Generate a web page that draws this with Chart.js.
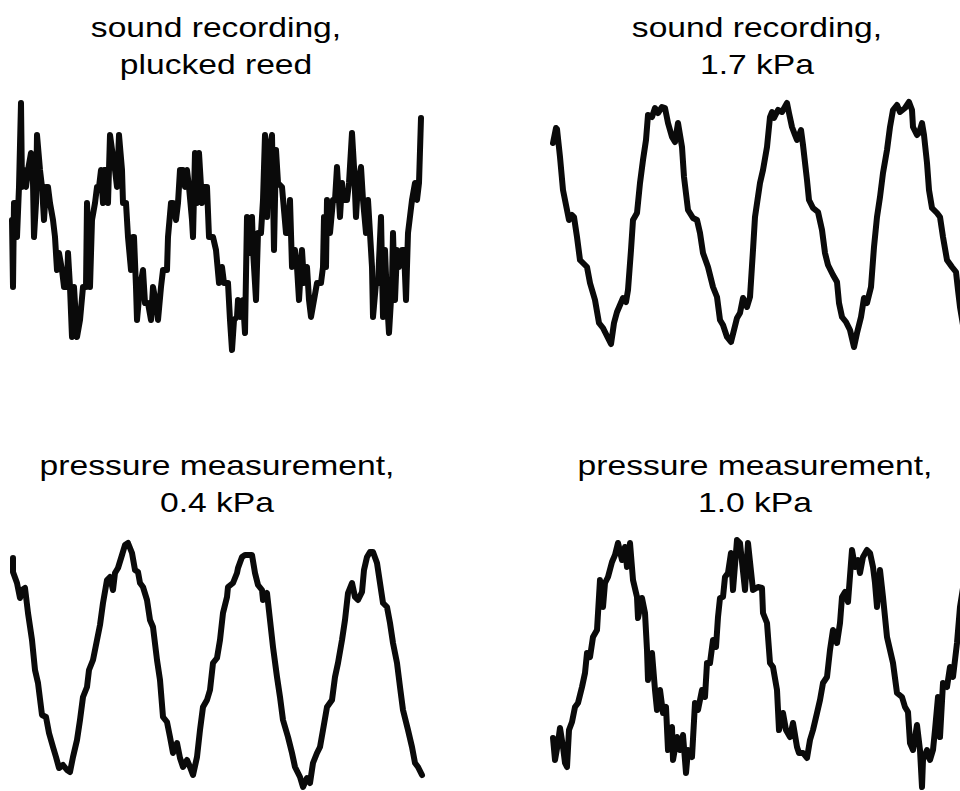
<!DOCTYPE html>
<html>
<head>
<meta charset="utf-8">
<script src="https://cdn.jsdelivr.net/npm/chart.js@4.4.1/dist/chart.umd.min.js"></script>
<style>
  html, body { margin: 0; padding: 0; background: #fff; }
  body { width: 960px; height: 791px; position: relative; overflow: hidden; }
  canvas { position: absolute; }
  .ttl {
    position: absolute; width: 400px; margin-left: -200px;
    font-family: "Liberation Sans", Arial, Helvetica, sans-serif;
    font-size: 28px; line-height: 37px; color: #000; text-align: center;
    transform: scaleX(1.2); white-space: nowrap;
  }
</style>
</head>
<body>
<div class="ttl" style="left:216px; top:9px;">sound recording,<br>plucked reed</div>
<div class="ttl" style="left:757px; top:9px;">sound recording,<br>1.7 kPa</div>
<div class="ttl" style="left:217px; top:447px;">pressure measurement,<br>0.4 kPa</div>
<div class="ttl" style="left:755px; top:447px;">pressure measurement,<br>1.0 kPa</div>

<canvas id="c1" width="430" height="280" style="left:2px; top:86px;"></canvas>
<canvas id="c2" width="430" height="280" style="left:543px; top:85px;"></canvas>
<canvas id="c3" width="430" height="280" style="left:3px; top:525px;"></canvas>
<canvas id="c4" width="430" height="280" style="left:543px; top:523px;"></canvas>

<script>
// Traces: [time (samples), amplitude (arbitrary units)]
const pluckedReed = [
  [0,6],[1,-61],[2,23],[4,23],[5,-11],[7,39],[9,123],[10,39],[12,56],[14,39],[16,56],[19,73],
  [21,43],[22,-11],[24,23],[25,91],[28,56],[30,39],[32,6],[34,39],[36,39],[38,23],[41,6],[43,-11],
  [45,-44],[47,-27],[50,-44],[52,-61],[55,-61],[56,-27],[58,-61],[60,-111],[62,-61],[65,-111],
  [68,-94],[71,-61],[74,-61],[75,23],[78,-61],[80,6],[83,23],[85,39],[87,39],[89,56],[91,23],
  [92,56],[95,56],[96,23],[98,91],[101,69],[103,56],[105,39],[107,91],[110,56],[111,23],[114,23],
  [116,-11],[119,-44],[121,-11],[122,-11],[124,-61],[125,-94],[128,-61],[131,-44],[133,-77],
  [136,-77],[139,-94],[141,-61],[144,-77],[146,-94],[149,-61],[151,-44],[155,-44],[156,-11],
  [159,23],[161,23],[164,6],[166,23],[168,56],[171,56],[173,39],[175,56],[177,39],[180,6],
  [181,-11],[183,73],[185,23],[187,73],[190,23],[192,39],[195,39],[197,-11],[201,-11],[204,-24],
  [207,-57],[210,-41],[212,-57],[216,-57],[218,-94],[220,-124],[222,-94],[225,-91],[226,-74],
  [228,-91],[231,-74],[233,-107],[235,9],[237,-27],[240,9],[241,-24],[244,-74],[246,-7],[249,-7],
  [251,26],[253,91],[255,9],[257,76],[260,91],[262,-24],[264,76],[266,43],[270,39],[274,-7],
  [276,-7],[278,26],[280,-41],[283,-24],[285,-41],[287,-74],[290,-24],[292,-57],[295,-41],
  [297,-74],[299,-91],[302,-74],[305,-57],[309,-57],[311,-41],[312,9],[314,-41],[315,26],[318,-7],
  [321,26],[323,26],[325,59],[328,9],[330,43],[331,26],[335,26],[337,43],[340,93],[342,59],
  [344,9],[346,43],[349,59],[351,26],[354,-7],[356,26],[360,-41],[361,-91],[364,-57],[366,-57],
  [369,9],[371,-91],[373,-24],[375,-74],[377,-107],[380,-57],[381,-7],[383,-74],[385,-24],
  [387,-41],[390,-24],[392,-24],[394,-74],[396,-7],[400,26],[403,43],[405,26],[407,43],[409,108]
];

const sound17kPa = [
  [0,82],[3,97],[4,96],[7,68],[10,35],[14,15],[16,5],[19,10],[21,8],[24,-12],[27,-35],[30,-38],
  [34,-42],[37,-58],[42,-75],[46,-98],[50,-103],[55,-113],[58,-119],[61,-98],[64,-87],[67,-80],
  [70,-73],[73,-77],[75,-65],[78,-25],[80,5],[84,12],[87,42],[90,65],[93,85],[95,110],[99,108],
  [102,117],[105,112],[109,118],[112,117],[115,102],[119,88],[122,83],[125,102],[129,78],[131,48],
  [135,15],[140,7],[144,5],[147,-8],[150,-28],[155,-42],[160,-62],[164,-72],[167,-95],[170,-100],
  [174,-112],[178,-117],[181,-105],[184,-93],[187,-88],[190,-73],[194,-82],[197,-72],[200,-25],
  [202,8],[207,42],[210,55],[214,78],[217,108],[219,113],[221,107],[225,115],[229,113],[234,122],
  [236,112],[239,98],[242,90],[244,85],[248,95],[250,80],[254,45],[256,25],[260,17],[265,13],
  [269,-5],[272,-28],[275,-40],[280,-50],[284,-57],[286,-78],[289,-92],[293,-97],[297,-105],
  [301,-122],[304,-108],[308,-92],[311,-73],[314,-78],[318,-62],[321,-22],[324,8],[327,28],
  [330,52],[334,75],[337,98],[340,115],[344,120],[347,113],[352,117],[356,123],[359,115],[360,98],
  [364,90],[366,92],[369,102],[371,90],[374,62],[376,35],[379,17],[384,12],[387,8],[390,-12],
  [394,-35],[399,-42],[403,-47],[405,-65],[407,-82],[410,-100]
];

const pressure04kPa = [
  [0,107],[0,93],[4,82],[7,67],[9,75],[12,77],[15,52],[19,25],[22,-5],[25,-18],[29,-50],[33,-52],
  [36,-68],[40,-82],[43,-92],[46,-103],[50,-100],[54,-105],[57,-107],[60,-92],[64,-75],[67,-55],
  [70,-32],[74,-22],[76,-5],[80,5],[84,25],[87,40],[90,62],[94,85],[97,88],[100,75],[102,92],
  [105,97],[109,110],[112,120],[115,122],[119,112],[122,95],[125,93],[127,82],[130,78],[134,65],
  [137,45],[140,38],[144,5],[147,-15],[150,-52],[154,-57],[157,-72],[160,-88],[164,-78],[167,-93],
  [170,-102],[174,-95],[177,-102],[180,-110],[184,-92],[187,-65],[190,-42],[194,-35],[197,-25],
  [200,2],[204,7],[207,25],[210,52],[214,68],[215,78],[220,82],[224,92],[225,97],[229,108],
  [232,110],[239,110],[242,92],[245,80],[249,75],[250,65],[254,72],[257,45],[260,18],[264,-12],
  [267,-32],[270,-55],[275,-72],[279,-88],[282,-102],[287,-112],[290,-122],[294,-113],[297,-118],
  [300,-98],[304,-88],[307,-82],[310,-65],[314,-42],[319,-35],[322,-12],[325,2],[329,25],[332,45],
  [335,72],[339,82],[342,68],[345,65],[349,73],[351,95],[354,108],[357,113],[360,113],[364,102],
  [367,82],[370,62],[374,58],[377,42],[380,22],[384,2],[387,-22],[390,-45],[395,-65],[399,-82],
  [402,-98],[405,-102],[409,-110]
];

const pressure10kPa = [
  [0,-75],[2,-97],[5,-80],[7,-65],[10,-84],[12,-100],[14,-104],[16,-67],[19,-59],[22,-44],
  [25,-40],[29,-24],[32,-10],[34,10],[37,6],[40,26],[44,33],[47,83],[50,56],[52,80],[55,86],
  [59,101],[62,108],[65,120],[69,103],[72,116],[74,96],[77,120],[80,83],[84,66],[85,45],[89,65],
  [92,50],[94,13],[95,-17],[99,10],[102,-27],[104,-47],[107,-27],[110,-50],[113,-44],[115,-87],
  [119,-64],[120,-97],[124,-74],[127,-87],[130,-72],[133,-110],[135,-87],[139,-94],[142,-40],
  [145,-47],[149,-27],[152,-34],[154,0],[157,0],[160,23],[163,16],[165,46],[167,65],[170,66],
  [172,86],[175,90],[178,110],[180,73],[184,123],[187,120],[192,73],[195,120],[200,73],[205,76],
  [209,75],[210,50],[214,40],[217,0],[220,-4],[224,-27],[226,-67],[230,-50],[233,-67],[237,-74],
  [240,-60],[244,-84],[246,-90],[250,-90],[254,-95],[257,-77],[260,-67],[264,-50],[267,-37],
  [270,-20],[274,-14],[277,13],[280,33],[284,20],[287,40],[289,66],[292,71],[295,61],[299,113],
  [302,96],[305,103],[307,90],[310,106],[314,113],[317,110],[320,96],[322,80],[324,56],[327,93],
  [330,66],[334,26],[337,13],[340,0],[344,-30],[349,-34],[352,-44],[355,-49],[357,-80],[360,-87],
  [364,-62],[367,-87],[369,-124],[370,-97],[374,-87],[377,-97],[380,-87],[382,-67],[385,-34],
  [387,-74],[390,-20],[394,-24],[397,-4],[400,-14],[404,20],[407,56],[410,75]
];

// Shared axis ranges for every panel
const timeRange = [0, 410];
const ampRange = [-130, 130];

function drawTrace(id, trace) {
  new Chart(document.getElementById(id), {
    type: 'line',
    data: {
      datasets: [{
        data: trace.map(([t, p]) => ({ x: t, y: p })),
        borderColor: '#0a0a0a',
        borderWidth: 6,
        borderJoinStyle: 'round',
        borderCapStyle: 'round',
        pointRadius: 0,
        tension: 0,
        fill: false,
        clip: false
      }]
    },
    options: {
      responsive: false,
      animation: false,
      events: [],
      layout: { padding: 10 },
      plugins: { legend: { display: false }, tooltip: { enabled: false }, title: { display: false } },
      scales: {
        x: { type: 'linear', min: timeRange[0], max: timeRange[1], display: false },
        y: { type: 'linear', min: ampRange[0], max: ampRange[1], display: false }
      }
    }
  });
}

drawTrace('c1', pluckedReed);
drawTrace('c2', sound17kPa);
drawTrace('c3', pressure04kPa);
drawTrace('c4', pressure10kPa);
</script>
</body>
</html>
